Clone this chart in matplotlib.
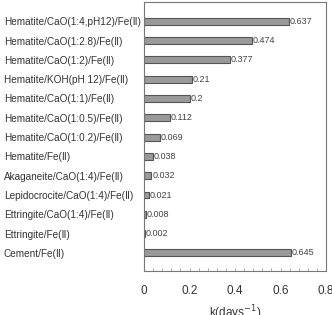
import matplotlib.pyplot as plt

plt.rcParams['font.family'] = ['Liberation Sans', 'DejaVu Sans']

labels = ["Hematite/CaO(1:4,pH12)/Fe(Ⅱ)", "Hematite/CaO(1:2.8)/Fe(Ⅱ)",
          "Hematite/CaO(1:2)/Fe(Ⅱ)", "Hematite/KOH(pH 12)/Fe(Ⅱ)",
          "Hematite/CaO(1:1)/Fe(Ⅱ)", "Hematite/CaO(1:0.5)/Fe(Ⅱ)",
          "Hematite/CaO(1:0.2)/Fe(Ⅱ)", "Hematite/Fe(Ⅱ)",
          "Akaganeite/CaO(1:4)/Fe(Ⅱ)", "Lepidocrocite/CaO(1:4)/Fe(Ⅱ)",
          "Ettringite/CaO(1:4)/Fe(Ⅱ)", "Ettringite/Fe(Ⅱ)", "Cement/Fe(Ⅱ)"]
k_values = [0.637, 0.474, 0.377, 0.21, 0.2, 0.112, 0.069, 0.038,
            0.032, 0.021, 0.008, 0.002, 0.645]
value_text = ["0.637", "0.474", "0.377", "0.21", "0.2", "0.112", "0.069",
              "0.038", "0.032", "0.021", "0.008", "0.002", "0.645"]
x_ticks = [0, 0.2, 0.4, 0.6, 0.8]
x_ticklabels = ["0", "0.2", "0.4", "0.6", "0.8"]

fig = plt.figure(figsize=(3.32, 3.15), dpi=100)
ax = fig.add_axes([0.434, 0.14, 0.548, 0.854])

pos = range(len(labels))
ax.barh(pos, k_values, height=0.36, color="#9a9a9a", edgecolor="#555555", linewidth=0.8)
for p, v, t in zip(pos, k_values, value_text):
    ax.text(v + 0.004, p, t, va="center", ha="left", fontsize=6.5, color="#444444")

ax.set_xlim(0, 0.8)
ax.set_ylim(12.93, -1.0)
ax.set_yticks(list(pos))
ax.set_yticklabels(labels, fontsize=7.2, color="#333333", ha="left")
ax.tick_params(axis="y", length=0, pad=101)
ax.set_xticks(x_ticks)
ax.set_xticklabels(x_ticklabels)
ax.set_xticks([i * 0.04 for i in range(21)], minor=True)
ax.tick_params(axis="x", which="both", direction="in", length=2.5, width=0.5,
               color="#888888", pad=10, labelsize=8.5, labelcolor="#333333")
for s in ax.spines.values():
    s.set_color("#777777")
    s.set_linewidth(0.8)
ax.set_xlabel("k(days$^{-1}$)", fontsize=8.5, color="#333333", labelpad=5)

fig.savefig("out.png", dpi=100)
